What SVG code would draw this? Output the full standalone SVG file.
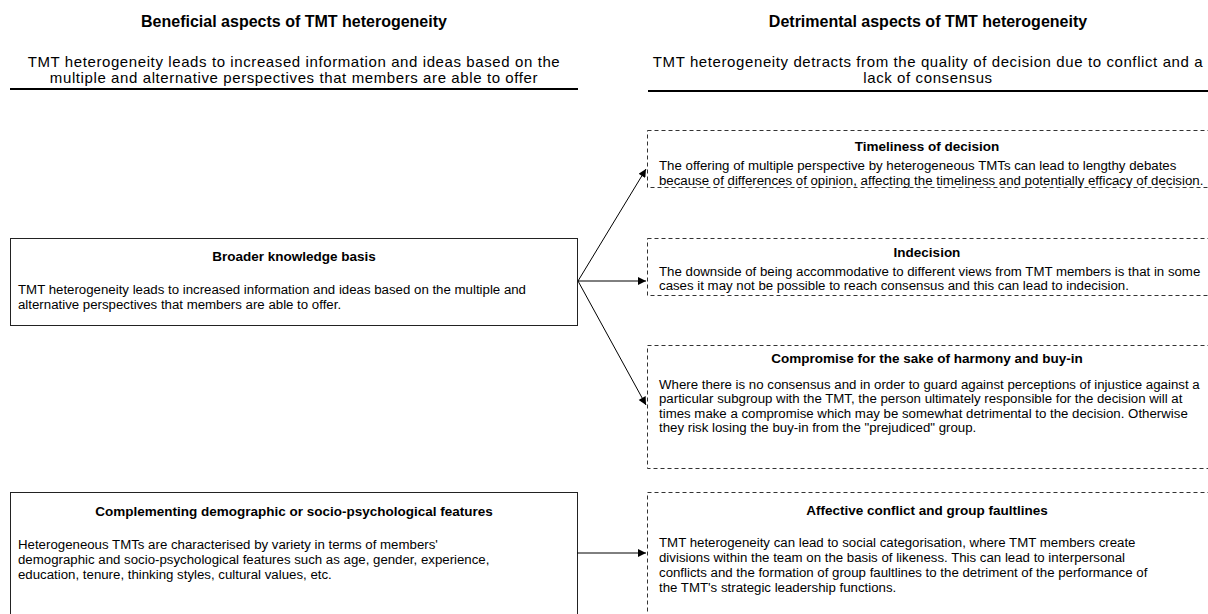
<svg xmlns="http://www.w3.org/2000/svg" width="1208" height="614" viewBox="0 0 1208 614">
  <style>
    text { font-family: "Liberation Sans", Arial, sans-serif; fill: #000; }
    .head { font-size: 16px; font-weight: bold; text-anchor: middle; }
    .sub { font-size: 15px; letter-spacing: 0.6px; text-anchor: middle; }
    .title { font-size: 13.5px; font-weight: bold; text-anchor: middle; }
    .body { font-size: 13.25px; }
    .rule { stroke: #000; stroke-width: 2; }
    .solid { fill: #fff; stroke: #222; stroke-width: 1; }
    .dashed { fill: #fff; stroke: #333; stroke-width: 1; stroke-dasharray: 4 3; }
    .conn { stroke: #000; stroke-width: 1; fill: none; marker-end: url(#arrow); }
  </style>
  <defs>
    <marker id="arrow" viewBox="0 0 10 10" refX="10" refY="5" markerWidth="9" markerHeight="8" markerUnits="userSpaceOnUse" orient="auto">
      <path d="M0,0 L10,5 L0,10 z" fill="#000"/>
    </marker>
  </defs>

  <rect width="1208" height="614" fill="#fff"/>

  <!-- column headings -->
  <g id="heading-beneficial">
    <text class="head" x="294" y="27">Beneficial aspects of TMT heterogeneity</text>
    <text class="sub" x="294" y="67">TMT heterogeneity leads to increased information and ideas based on the</text>
    <text class="sub" x="294" y="83">multiple and alternative perspectives that members are able to offer</text>
    <line class="rule" x1="10" y1="89" x2="578" y2="89"/>
  </g>
  <g id="heading-detrimental">
    <text class="head" x="928" y="27">Detrimental aspects of TMT heterogeneity</text>
    <text class="sub" x="928" y="67">TMT heterogeneity detracts from the quality of decision due to conflict and a</text>
    <text class="sub" x="928" y="83">lack of consensus</text>
    <line class="rule" x1="648" y1="91" x2="1208" y2="91"/>
  </g>

  <!-- beneficial aspects -->
  <g id="broader-knowledge">
    <rect class="solid" x="10.5" y="238.5" width="567" height="87"/>
    <text class="title" x="294" y="261">Broader knowledge basis</text>
    <text class="body" x="18" y="294">TMT heterogeneity leads to increased information and ideas based on the multiple and</text>
    <text class="body" x="18" y="309">alternative perspectives that members are able to offer.</text>
  </g>
  <g id="complementing-features">
    <rect class="solid" x="10.5" y="492.5" width="567" height="130"/>
    <text class="title" x="294" y="516">Complementing demographic or socio-psychological features</text>
    <text class="body" x="18" y="549">Heterogeneous TMTs are characterised by variety in terms of members'</text>
    <text class="body" x="18" y="564">demographic and socio-psychological features such as age, gender, experience,</text>
    <text class="body" x="18" y="579">education, tenure, thinking styles, cultural values, etc.</text>
  </g>

  <!-- detrimental aspects -->
  <g id="timeliness">
    <rect class="dashed" x="647.5" y="130.5" width="570" height="57"/>
    <text class="title" x="927" y="151">Timeliness of decision</text>
    <text class="body" x="659" y="170">The offering of multiple perspective by heterogeneous TMTs can lead to lengthy debates</text>
    <text class="body" x="659" y="185">because of differences of opinion, affecting the timeliness and potentially efficacy of decision.</text>
  </g>
  <g id="indecision">
    <rect class="dashed" x="647.5" y="238.5" width="570" height="57"/>
    <text class="title" x="927" y="257">Indecision</text>
    <text class="body" x="659" y="276">The downside of being accommodative to different views from TMT members is that in some</text>
    <text class="body" x="659" y="290">cases it may not be possible to reach consensus and this can lead to indecision.</text>
  </g>
  <g id="compromise">
    <rect class="dashed" x="647.5" y="345.5" width="570" height="123"/>
    <text class="title" x="927" y="363">Compromise for the sake of harmony and buy-in</text>
    <text class="body" x="659" y="389">Where there is no consensus and in order to guard against perceptions of injustice against a</text>
    <text class="body" x="659" y="403">particular subgroup with the TMT, the person ultimately responsible for the decision will at</text>
    <text class="body" x="659" y="418">times make a compromise which may be somewhat detrimental to the decision. Otherwise</text>
    <text class="body" x="659" y="432">they risk losing the buy-in from the "prejudiced" group.</text>
  </g>
  <g id="affective-conflict">
    <rect class="dashed" x="647.5" y="492.5" width="570" height="130"/>
    <text class="title" x="927" y="515">Affective conflict and group faultlines</text>
    <text class="body" x="659" y="547">TMT heterogeneity can lead to social categorisation, where TMT members create</text>
    <text class="body" x="659" y="562">divisions within the team on the basis of likeness. This can lead to interpersonal</text>
    <text class="body" x="659" y="577">conflicts and the formation of group faultlines to the detriment of the performance of</text>
    <text class="body" x="659" y="592">the TMT's strategic leadership functions.</text>
  </g>

  <!-- connectors -->
  <g id="connectors">
    <line class="conn" x1="578" y1="281" x2="646" y2="169"/>
    <line class="conn" x1="578" y1="281" x2="646" y2="281"/>
    <line class="conn" x1="578" y1="281" x2="646" y2="405"/>
    <line class="conn" x1="577" y1="553" x2="646" y2="553"/>
  </g>
</svg>
